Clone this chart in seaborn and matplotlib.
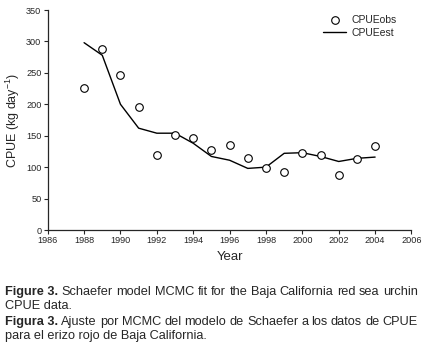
import numpy as np
import pandas as pd
import matplotlib
matplotlib.use("Agg")
import matplotlib.pyplot as plt
import seaborn as sns

years = [1988, 1989, 1990, 1991, 1992, 1993, 1994, 1995, 1996,
         1997, 1998, 1999, 2000, 2001, 2002, 2003, 2004]
cpue_obs = [226, 288, 246, 196, 120, 151, 146, 127, 135,
            115, 99, 92, 123, 119, 88, 113, 133]
cpue_est = [298, 278, 200, 162, 154, 154, 138, 117, 111,
            98, 100, 122, 123, 117, 109, 114, 116]

caption = [
    ("Figure 3.", " Schaefer model MCMC fit for the Baja California red sea urchin", True),
    ("", "CPUE data.", False),
    ("Figura 3.", " Ajuste por MCMC del modelo de Schaefer a los datos de CPUE", True),
    ("", "para el erizo rojo de Baja California.", False),
]

sns.set_style("ticks")
plt.rcParams["font.family"] = ["Liberation Sans", "DejaVu Sans"]
plt.rcParams["mathtext.default"] = "regular"

dati = pd.DataFrame({"Year": years, "CPUEobs": cpue_obs, "CPUEest": cpue_est})

W, H = 423, 359
fig = plt.figure(figsize=(W / 100, H / 100), dpi=100)
ax = fig.add_axes([47.7 / W, 1 - 230 / H, (411.5 - 47.7) / W, 220 / H])

sns.lineplot(data=dati, x="Year", y="CPUEest", color="black", lw=1.0,
             ax=ax, label="CPUEest")
sns.scatterplot(data=dati, x="Year", y="CPUEobs", marker="o", s=30,
                facecolor="white", edgecolor="black", linewidth=0.8,
                ax=ax, label="CPUEobs", zorder=3)

ax.set_xlim(1986, 2006)
ax.set_ylim(0, 350)
ax.set_xticks(range(1986, 2007, 2))
ax.set_yticks(range(0, 351, 50))
ax.tick_params(labelsize=6.6, length=3, width=0.8, pad=1.5)
for s in ["top", "right"]:
    ax.spines[s].set_visible(False)
for s in ["left", "bottom"]:
    ax.spines[s].set_linewidth(0.9)
ax.set_xlabel("Year", fontsize=9.5, labelpad=4)
ax.set_ylabel("CPUE (kg day$^{-1}$)", fontsize=9, labelpad=3)

h, l = ax.get_legend_handles_labels()
order = [l.index("CPUEobs"), l.index("CPUEest")]
ax.legend([h[i] for i in order], [l[i] for i in order], loc="upper right",
          bbox_to_anchor=(0.985, 1.02), frameon=False, fontsize=7.5,
          handlelength=2.2, handletextpad=0.5, labelspacing=0.3)

# caption; the bold lines are justified between x0 and x1
fig.canvas.draw()
r = fig.canvas.get_renderer()
x0, x1 = 5, 418
ys = [292, 306, 322, 336]
fs = 9.2
for (bold, rest, justify), yp in zip(caption, ys):
    if not justify:
        fig.text(x0 / W, 1 - yp / H, rest, fontsize=fs, va="center")
        continue
    words = [(bold, "bold")] + [(w, "normal") for w in rest.split()]
    texts = [fig.text(0, 1 - yp / H, w, fontsize=fs, fontweight=wt, va="center")
             for w, wt in words]
    widths = [t.get_window_extent(r).width for t in texts]
    gap = (x1 - x0 - sum(widths)) / (len(widths) - 1)
    x = x0
    for t, wd in zip(texts, widths):
        t.set_x(x / W)
        x += wd + gap

fig.savefig("out.png", dpi=100)
